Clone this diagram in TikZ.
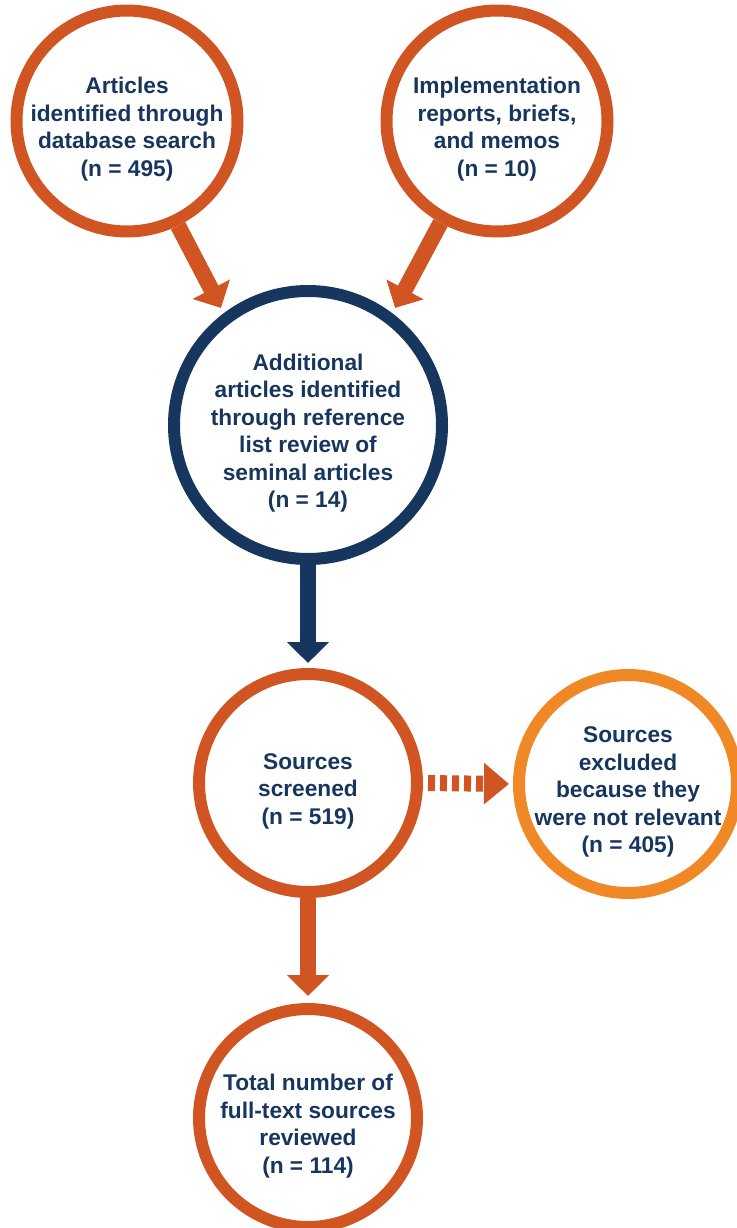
\documentclass[tikz,border=0pt]{standalone}
\usepackage{fontspec}
\setmainfont{Liberation Sans}
\usetikzlibrary{arrows.meta}
\definecolor{rust}{RGB}{209,85,34}
\definecolor{navy}{RGB}{23,54,93}
\definecolor{amber}{RGB}{239,136,37}
\tikzset{
  stage/.style={circle, draw=rust, line width=12pt, minimum size=218pt, inner sep=0pt,
    label={[stagetext]center:{#1}}},
  stagetext/.style={align=center, text=navy, yshift=-8pt,
    font=\fontsize{22.7}{27.5}\selectfont\bfseries},
  flow/.style={rust, line width=16pt, -{Triangle[width=41pt,length=21pt]}},
}

\begin{document}
\begin{tikzpicture}[x=1pt,y=-1pt]
  \useasboundingbox (0,0) rectangle (736,1228);
  % sources
  \node[stage={Articles\\identified through\\database search\\(n = 495)}, minimum size=221pt] (dbsearch) at (127,121) {};
  \node[stage={Implementation\\reports, briefs,\\and memos\\(n = 10)}, minimum size=221pt] (reports) at (497,121) {};
  \node[stage={Additional\\articles identified\\through reference\\list review of\\seminal articles\\(n = 14)}, draw=navy, minimum size=268pt] (refs) at (308,425) {};
  % screening
  \node[stage={Sources\\screened\\(n = 519)}] (screened) at (308,783) {};
  \node[stage={Sources\\excluded\\because they\\were not relevant\\(n = 405)}, draw=amber] (excluded) at (628,784) {};
  \node[stage={Total number of\\full-text sources\\reviewed\\(n = 114)}] (fulltext) at (308,1118) {};
  % arrows
  \draw[flow, shorten >=6pt] (dbsearch.-64) -- (refs.127);
  \draw[flow, shorten >=6pt] (reports.-119) -- (refs.53);
  \draw[flow, navy, shorten >=5pt] (refs.south) -- (screened.north);
  \draw[flow, dash pattern=on 7pt off 5pt, -{Triangle[width=40pt,length=25pt]},
    shorten <=5pt, shorten >=4pt] (screened.east) -- (excluded.west);
  \draw[flow, shorten >=7pt] (screened.south) -- (fulltext.north);
\end{tikzpicture}
\end{document}
